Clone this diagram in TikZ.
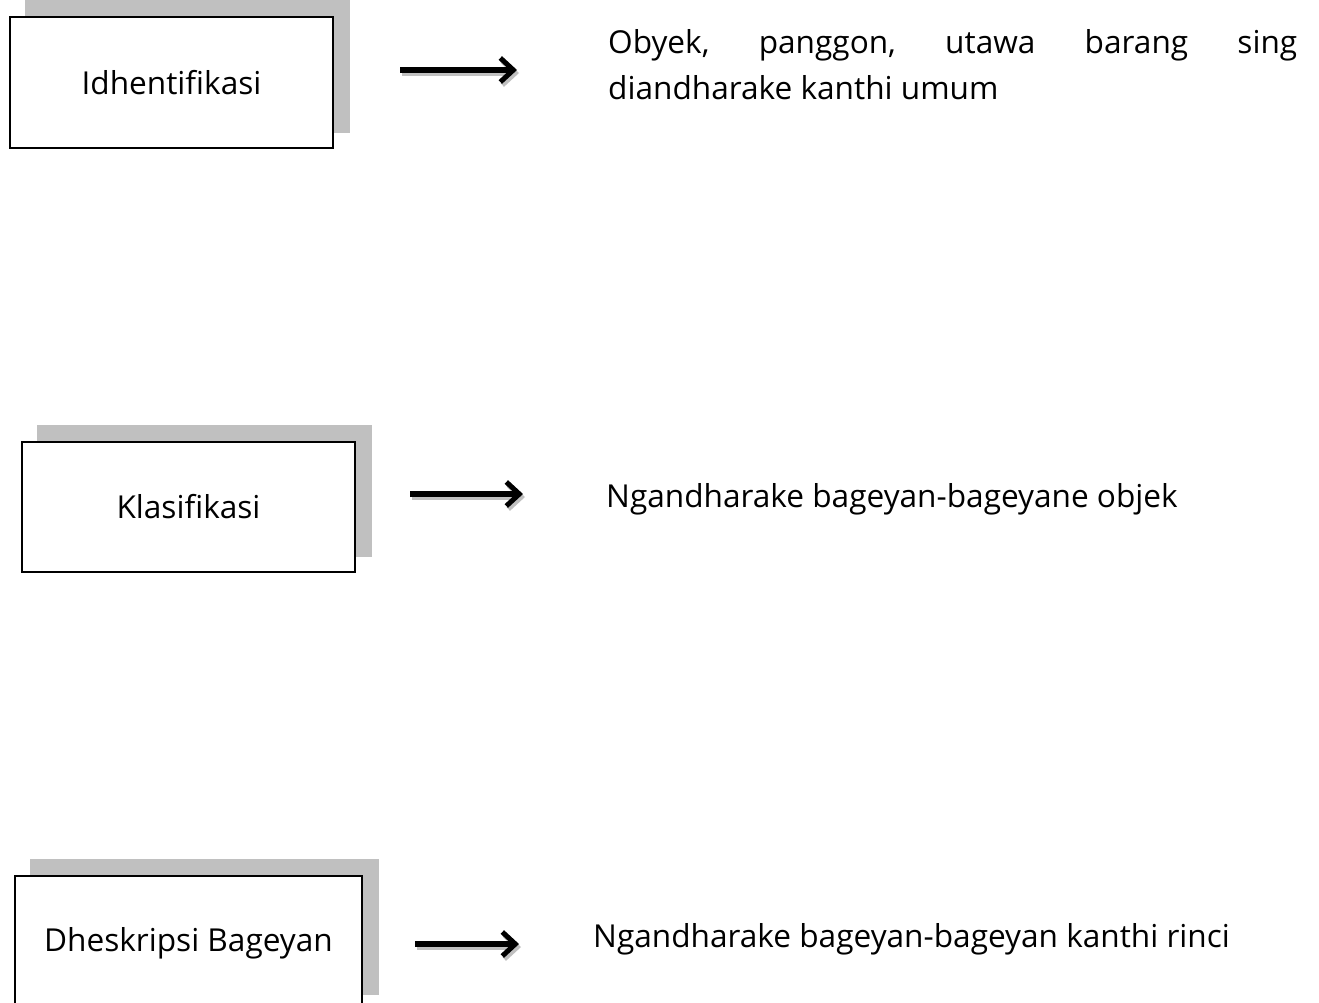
\documentclass[tikz,border=0pt]{standalone}
\usepackage{fontspec}
\setmainfont{Open Sans}
\usetikzlibrary{arrows.meta,backgrounds}
\definecolor{shadowgray}{HTML}{C0C0C0}
\tikzset{
  txt/.style={font=\fontsize{31.6}{46}\selectfont},
  box/.style={txt, draw=black, line width=2pt, fill=white, inner sep=0pt},
  desc/.style={txt, inner sep=0pt, anchor=base west},
  tip/.style={-{Straight Barb[length=13pt,width=24pt,line width=5pt]}},
  arr/.style={tip, line width=5.5pt},
  arrshadow/.style={tip, line width=5.5pt, draw=shadowgray},
}
\begin{document}
\begin{tikzpicture}[x=1pt,y=-1pt]
\useasboundingbox (0,0) rectangle (1319,1002);
\node[box, minimum width=323pt, minimum height=131pt] (b1) at (171.5,82.5) {Idhentifikasi};
\node[box, minimum width=333pt, minimum height=130pt] (b2) at (188.5,507) {Klasifikasi};
\node[box, minimum width=347pt, minimum height=134pt] (b3) at (188.5,943) {Dheskripsi Bageyan};
\begin{scope}[on background layer]
  \foreach \b in {b1,b2,b3}{
    \fill[shadowgray] ([shift={(16,-16)}]\b.south west) rectangle ([shift={(16,-16)}]\b.north east);
  }
\end{scope}
\node[desc, align=left] (t1) at (608,99) {\hbox to 689pt{Obyek,\hfill panggon,\hfill utawa\hfill barang\hfill sing}\\diandharake kanthi umum};
\node[desc] (t2) at (606,507) {Ngandharake bageyan-bageyane objek};
\node[desc] (t3) at (593,947) {Ngandharake bageyan-bageyan kanthi rinci};
\coordinate (a1s) at (400,70); \coordinate (a1e) at (517,70);
\coordinate (a2s) at (410,494); \coordinate (a2e) at (523,494);
\coordinate (a3s) at (415,944); \coordinate (a3e) at (519,944);
\foreach \s/\e in {a1s/a1e,a2s/a2e,a3s/a3e}{
  \draw[arrshadow] ([shift={(2,3)}]\s) -- ([shift={(2,3)}]\e);
  \draw[arr] (\s) -- (\e);
}
\end{tikzpicture}
\end{document}
